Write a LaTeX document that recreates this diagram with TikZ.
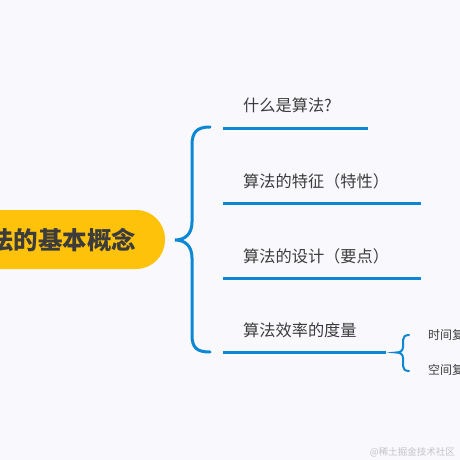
\documentclass[tikz,border=0pt]{standalone}
\usepackage{fontspec}
\setmainfont{Noto Sans CJK SC}
\definecolor{bg}{HTML}{F9F9FD}
\definecolor{pill}{HTML}{FFC20A}
\definecolor{brblue}{HTML}{0B87D4}
\definecolor{txt}{HTML}{3C3C3C}
\definecolor{wm}{HTML}{C2C2C8}
\tikzset{
  x=1pt,y=-1pt,
  topic/.style={anchor=west,inner sep=0pt,text=txt,font=\fontsize{16.2}{16}\selectfont},
  subtopic/.style={anchor=west,inner sep=0pt,text=txt,font=\fontsize{12}{12}\selectfont},
  uline/.style={draw=brblue,line width=3pt},
  brace/.style={draw=brblue,line width=3pt,line cap=round},
  smallbrace/.style={draw=brblue,line width=2pt,line cap=round}
}
\begin{document}
\begin{tikzpicture}
\useasboundingbox (0,0) rectangle (460,460);
\clip (0,0) rectangle (460,460);
\fill[bg] (0,0) rectangle (460,460);
% central topic
\fill[pill,rounded corners=29pt] (-80,210) rectangle (165,269);
\node[anchor=west,inner sep=0pt,text=txt,font=\fontsize{24.5}{24.5}\selectfont\bfseries] (root) at (-35.5,240) {算法的基本概念};
% big brace
\coordinate (btip) at (175,240);
\coordinate (btop) at (210,127);
\coordinate (bbot) at (210,352);
\draw[brace] (btop) .. controls (197,127) and (192,132) .. (192,145) -- (192,222)
  .. controls (192,234) and (185,240) .. (btip)
  .. controls (185,240) and (192,246) .. (192,258) -- (192,335)
  .. controls (192,348) and (197,352) .. (bbot);
% topics
\node[topic] (t1) at (243,105) {什么是算法?};
\node[topic] (t2) at (243,181) {算法的特征（特性）};
\node[topic] (t3) at (243,256) {算法的设计（要点）};
\node[topic] (t4) at (243,330) {算法效率的度量};
\coordinate (l1a) at (223,128); \coordinate (l1b) at (368,128);
\coordinate (l2a) at (223,203); \coordinate (l2b) at (421,203);
\coordinate (l3a) at (223,278); \coordinate (l3b) at (421,278);
\coordinate (l4a) at (223,352.5); \coordinate (l4b) at (386,352.5);
\draw[uline] (l1a) -- (l1b);
\draw[uline] (l2a) -- (l2b);
\draw[uline] (l3a) -- (l3b);
\draw[uline] (l4a) -- (l4b);
% small brace
\coordinate (stip) at (396,352.5);
\coordinate (stop) at (409,335);
\coordinate (sbot) at (409,371);
\draw[smallbrace] (stop) .. controls (405,335) and (403,337) .. (403,340) -- (403,347)
  .. controls (403,351) and (400,352.5) .. (stip)
  .. controls (400,352.5) and (403,354) .. (403,358) -- (403,366)
  .. controls (403,369) and (405,371) .. (sbot);
\node[subtopic] (s1) at (428,335) {时间复杂度};
\node[subtopic] (s2) at (428,370) {空间复杂度};
% watermark
\node[anchor=east,inner sep=0pt,text=wm,font=\fontsize{9.5}{9.5}\selectfont] (wmark) at (455,452) {@稀土掘金技术社区};
\end{tikzpicture}
\end{document}
